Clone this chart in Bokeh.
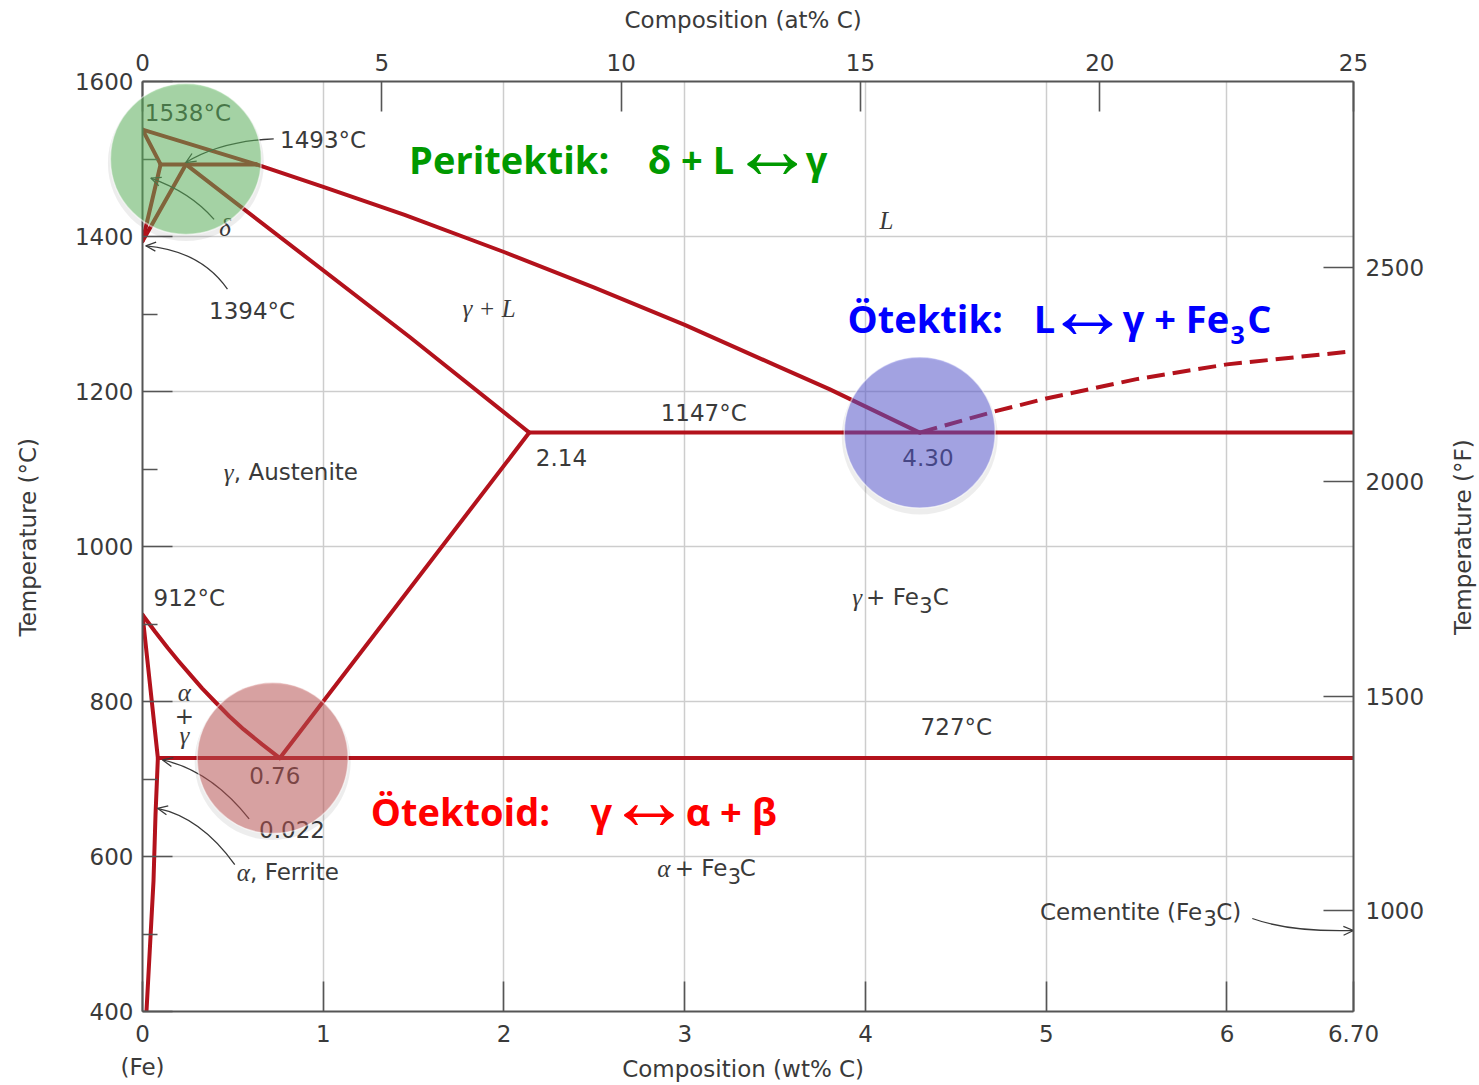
import math

from bokeh.core.properties import value
from bokeh.embed import file_html
from bokeh.models import FixedTicker, LinearAxis, Range1d
from bokeh.plotting import figure
from bokeh.resources import INLINE

# ---------------------------------------------------------------------------
# Fe–Fe3C phase boundaries (composition in wt% C, temperature in °C)
# ---------------------------------------------------------------------------
delta_liquidus_wt = [0.0, 0.63]
delta_liquidus_c = [1538, 1493]
delta_solidus_wt = [0.0, 0.10]
delta_solidus_c = [1538, 1493]
peritectic_wt = [0.10, 0.63]
peritectic_c = [1493, 1493]
delta_solvus_wt = [0.10, 0.0]
delta_solvus_c = [1493, 1394]
gamma_delta_wt = [0.24, 0.0]
gamma_delta_c = [1493, 1394]
liquidus_wt = [0.63, 1.0, 1.45, 2.0, 2.5, 3.0, 3.5, 3.8, 4.30]
liquidus_c = [1493, 1464, 1428, 1380, 1334, 1286, 1234, 1203, 1147]
solidus_wt = [0.24, 1.48, 2.14]
solidus_c = [1493, 1270, 1147]
fe3c_liquidus_wt = [4.30, 4.71, 5.0, 5.5, 6.0, 6.70]
fe3c_liquidus_c = [1147, 1174, 1191, 1216, 1235, 1252]
eutectic_wt = [2.14, 6.70]
eutectic_c = [1147, 1147]
acm_wt = [2.14, 0.76]
acm_c = [1147, 727]
a3_wt = [0.0, 0.07, 0.14, 0.20, 0.27, 0.33, 0.40, 0.48, 0.56, 0.66, 0.76]
a3_c = [912, 890, 869, 852, 833, 817, 800, 781, 764, 745, 727]
alpha_gamma_wt = [0.0, 0.085]
alpha_gamma_c = [912, 727]
eutectoid_wt = [0.085, 6.70]
eutectoid_c = [727, 727]
alpha_solvus_wt = [0.085, 0.072, 0.061, 0.022]
alpha_solvus_c = [727, 654, 569, 400]

# invariant reactions highlighted with discs: peritectic, eutectic, eutectoid
invariant_wt = [0.24, 4.30, 0.72]
invariant_c = [1500, 1147, 727]
invariant_colors = ["#5cb85c", "#5757d6", "#c25656"]

# ---------------------------------------------------------------------------
# axes
# ---------------------------------------------------------------------------
wt_ticks = [0, 1, 2, 3, 4, 5, 6, 6.70]
wt_tick_labels = ["0", "1", "2", "3", "4", "5", "6", "6.70"]
at_ticks = [0, 5, 10, 15, 20, 25.3]
at_tick_labels = ["0", "5", "10", "15", "20", "25"]
degc_ticks = [400, 600, 800, 1000, 1200, 1400, 1600]
degc_minor_ticks = [500, 700, 900, 1100, 1300, 1500]
degf_ticks = [1000, 1500, 2000, 2500]
wt_grid = [1, 2, 3, 4, 5, 6]
degc_grid = [600, 800, 1000, 1200, 1400]

WT_MIN, WT_MAX = 0.0, 6.70
C_MIN, C_MAX = 400, 1600
AT_MAX = 25.3
F_MIN, F_MAX = 764.5, 2933.7

W, H = 1479, 1085
BORDER_L, BORDER_R, BORDER_T, BORDER_B = 142, 126, 81, 74
PX_X = (W - BORDER_L - BORDER_R) / (WT_MAX - WT_MIN)
PX_Y = (H - BORDER_T - BORDER_B) / (C_MAX - C_MIN)

INK = "#3a3a3a"
AXIS_INK = "#555555"
PHASE_RED = "#b3121c"
SANS = "DejaVu Sans"
SERIF = "Liberation Serif"
BOLD = "Open Sans"
ARROW_FONT = "Liberation Sans"

p = figure(
    width=W, height=H,
    x_range=Range1d(WT_MIN, WT_MAX), y_range=Range1d(C_MIN, C_MAX),
    output_backend="svg", toolbar_location=None,
    min_border_left=BORDER_L, min_border_right=BORDER_R,
    min_border_top=BORDER_T, min_border_bottom=BORDER_B,
)
p.outline_line_color = None
p.background_fill_color = "white"
p.border_fill_color = "white"
p.extra_x_ranges = {"at": Range1d(0, AT_MAX)}
p.extra_y_ranges = {"degf": Range1d(F_MIN, F_MAX)}


def style_axis(ax, standoff):
    ax.axis_line_color = AXIS_INK
    ax.axis_line_width = 2
    ax.major_tick_line_color = AXIS_INK
    ax.major_tick_line_width = 1.6
    ax.major_tick_in = 30
    ax.major_tick_out = 0
    ax.minor_tick_line_color = None
    ax.major_label_text_font = SANS
    ax.major_label_text_font_size = "23px"
    ax.major_label_text_color = INK
    ax.major_label_standoff = standoff


bottom = p.xaxis[0]
bottom.ticker = FixedTicker(ticks=wt_ticks)
bottom.major_label_overrides = dict(zip(wt_ticks, wt_tick_labels))
style_axis(bottom, 13)

left = p.yaxis[0]
left.ticker = FixedTicker(ticks=degc_ticks, minor_ticks=degc_minor_ticks)
style_axis(left, 9)
left.minor_tick_line_color = AXIS_INK
left.minor_tick_line_width = 1.6
left.minor_tick_in = 15
left.minor_tick_out = 0

top = LinearAxis(x_range_name="at", ticker=FixedTicker(ticks=at_ticks))
top.major_label_overrides = dict(zip(at_ticks, at_tick_labels))
style_axis(top, 11)
p.add_layout(top, "above")

right = LinearAxis(y_range_name="degf", ticker=FixedTicker(ticks=degf_ticks))
style_axis(right, 12)
p.add_layout(right, "right")

p.xgrid.ticker = FixedTicker(ticks=wt_grid)
p.ygrid.ticker = FixedTicker(ticks=degc_grid)
p.grid.grid_line_color = "#cdcdcd"
p.grid.grid_line_width = 1.5

# ---------------------------------------------------------------------------
# phase boundaries
# ---------------------------------------------------------------------------
solid_boundaries = [
    (delta_liquidus_wt, delta_liquidus_c),
    (delta_solidus_wt, delta_solidus_c),
    (peritectic_wt, peritectic_c),
    (delta_solvus_wt, delta_solvus_c),
    (gamma_delta_wt, gamma_delta_c),
    (liquidus_wt, liquidus_c),
    (solidus_wt, solidus_c),
    (eutectic_wt, eutectic_c),
    (acm_wt, acm_c),
    (a3_wt, a3_c),
    (alpha_gamma_wt, alpha_gamma_c),
    (eutectoid_wt, eutectoid_c),
    (alpha_solvus_wt, alpha_solvus_c),
]
for xs, ys in solid_boundaries:
    p.line(xs, ys, line_color=PHASE_RED, line_width=4, line_join="round", line_cap="round")
p.line(fe3c_liquidus_wt, fe3c_liquidus_c, line_color=PHASE_RED, line_width=4, line_dash="18 8")

# ---------------------------------------------------------------------------
# field and point labels (y is the vertical middle of each label)
# ---------------------------------------------------------------------------
small = dict(text_font=value(SANS), text_font_size="23px", text_color=INK,
             text_baseline="middle")
greek = dict(text_font=value(SERIF), text_font_style="italic", text_font_size="25px",
             text_color=INK, text_baseline="middle")

sans_left_text = ["1538°C", "1493°C", "1394°C", "1147°C", "2.14", "4.30", ", Austenite",
                  "912°C", "727°C", "0.76", "0.022", ", Ferrite", "C", "C", "C)"]
sans_left_x = [0.013, 0.761, 0.368, 2.867, 2.176, 4.204, 0.505,
               0.061, 4.305, 0.590, 0.645, 0.595, 4.372, 3.304, 5.941]
sans_left_y = [1560, 1525, 1304, 1172, 1115, 1115, 1096,
               933, 767, 704, 635, 580, 934.5, 585, 528]
p.text(x=sans_left_x, y=sans_left_y, text=sans_left_text, text_align="left", **small)

sans_right_text = ["+ Fe", "+ Fe", "Cementite (Fe"]
sans_right_x = [4.295, 3.236, 5.863]
sans_right_y = [934.5, 585, 528]
p.text(x=sans_right_x, y=sans_right_y, text=sans_right_text, text_align="right", **small)

sub_x = [4.298, 3.238, 5.870]
sub_y = [925, 575, 520.5]
p.text(x=sub_x, y=sub_y, text=["3", "3", "3"], text_font=value(SANS), text_font_size="21px",
       text_color=INK, text_align="left", text_baseline="middle")

p.text(x=[0.232], y=[782], text=["+"], text_align="center", **small)

greek_left_text = ["δ", "γ + L", "L", "γ", "α", "γ", "α"]
greek_left_x = [0.424, 1.770, 4.078, 0.450, 0.522, 3.927, 2.848]
greek_left_y = [1412, 1306.5, 1421, 1096, 580, 934.5, 585]
p.text(x=greek_left_x, y=greek_left_y, text=greek_left_text, text_align="left", **greek)

p.text(x=[0.232, 0.232], y=[812, 756.5], text=["α", "γ"], text_align="center", **greek)

# ---------------------------------------------------------------------------
# leader arrows
# ---------------------------------------------------------------------------
arrow_start_wt = [0.726, 0.396, 0.470, 0.590, 0.5105, 6.14]
arrow_start_c = [1526, 1422, 1332, 648.5, 589.6, 520]
arrow_ctrl_wt = [0.433, 0.267, 0.3225, 0.378, 0.3225, 6.352]
arrow_ctrl_c = [1523, 1457, 1381.6, 710.9, 650.6, 502.3]
arrow_tip_wt = [0.2395, 0.046, 0.018, 0.111, 0.083, 6.70]
arrow_tip_c = [1495.4, 1475.3, 1388, 724.6, 662.2, 504.5]

p.quadratic(x0=arrow_start_wt, y0=arrow_start_c, x1=arrow_tip_wt, y1=arrow_tip_c,
            cx=arrow_ctrl_wt, cy=arrow_ctrl_c, line_color=INK, line_width=1.3)


def arrow_head(tx, ty, cx, cy, length=11.0, half_angle=0.42):
    # built in pixel space so the head keeps its shape on the unequal axes
    ang = math.atan2((ty - cy) * PX_Y, (tx - cx) * PX_X)
    hx, hy = [], []
    for s in (-half_angle, half_angle):
        a = ang + math.pi + s
        hx.append(tx + length * math.cos(a) / PX_X)
        hy.append(ty + length * math.sin(a) / PX_Y)
    return [hx[0], tx, hx[1]], [hy[0], ty, hy[1]]


heads = [arrow_head(tx, ty, cx, cy) for tx, ty, cx, cy in
         zip(arrow_tip_wt, arrow_tip_c, arrow_ctrl_wt, arrow_ctrl_c)]
p.multi_line(xs=[h[0] for h in heads], ys=[h[1] for h in heads],
             line_color=INK, line_width=1.3)

# ---------------------------------------------------------------------------
# discs over the invariant points (drawn unclipped, above the axes)
# ---------------------------------------------------------------------------
p.scatter(x=invariant_wt, y=[c - 4 / PX_Y for c in invariant_c], size=156, marker="circle",
          fill_color="#000000", fill_alpha=0.07, line_color=None, level="annotation")
p.scatter(x=invariant_wt, y=invariant_c, size=151, marker="circle",
          fill_color=invariant_colors, fill_alpha=0.5,
          line_color="white", line_alpha=0.5, line_width=1.5, level="annotation")

# ---------------------------------------------------------------------------
# reaction captions
# ---------------------------------------------------------------------------
GREEN, BLUE, RED = "#009900", "#0000ff", "#ff0000"
big = dict(text_font=value(BOLD), text_font_style="bold", text_font_size="38px",
           text_baseline="middle", level="overlay")
arrow_glyph = dict(text=["↔"], text_font=value(ARROW_FONT), text_font_style="bold",
                   text_font_size="84px", text_align="center", text_baseline="middle",
                   level="overlay")
sub_big = dict(text=["3"], text_font=value(BOLD), text_font_style="bold",
               text_font_size="25px", text_align="left", text_baseline="middle",
               level="overlay")

# peritectic
p.text(x=[1.475, 2.795, 3.669], y=[1499.5, 1499.5, 1499.5], text=["Peritektik:", "δ + L", "γ"],
       text_color=GREEN, text_align="left", **big)
p.text(x=[3.484], y=[1513], text_color=GREEN, **arrow_glyph)

# eutectic
p.text(x=[3.901, 4.931], y=[1295, 1295], text=["Ötektik:", "L"],
       text_color=BLUE, text_align="left", **big)
p.text(x=[5.228], y=[1306.5], text_color=BLUE, **arrow_glyph)
p.text(x=[6.012], y=[1295], text=["γ + Fe"], text_color=BLUE, text_align="right", **big)
p.text(x=[6.019], y=[1273.5], text_color=BLUE, **sub_big)
p.text(x=[6.112], y=[1295], text=["C"], text_color=BLUE, text_align="left", **big)

# eutectoid
p.text(x=[1.263, 2.479, 3.005], y=[659, 659, 659], text=["Ötektoid:", "γ", "α + β"],
       text_color=RED, text_align="left", **big)
p.text(x=[2.802], y=[672.5], text_color=RED, **arrow_glyph)

# ---------------------------------------------------------------------------
# axis titles (outside the frame, so drawn at overlay level)
# ---------------------------------------------------------------------------
title = dict(text_font=value(SANS), text_font_size="23px", text_color=INK,
             text_align="center", text_baseline="middle", level="overlay")
p.text(x=[3.323], y=[1679], text=["Composition (at% C)"], **title)
p.text(x=[3.323], y=[326], text=["Composition (wt% C)"], **title)
p.text(x=[0.0], y=[328], text=["(Fe)"], **title)
p.text(x=[-0.636], y=[1012], text=["Temperature (°C)"], angle=math.pi / 2, **title)
p.text(x=[7.305], y=[1012], text=["Temperature (°F)"], angle=math.pi / 2, **title)

open("out.html", "w").write(file_html(p, INLINE))
